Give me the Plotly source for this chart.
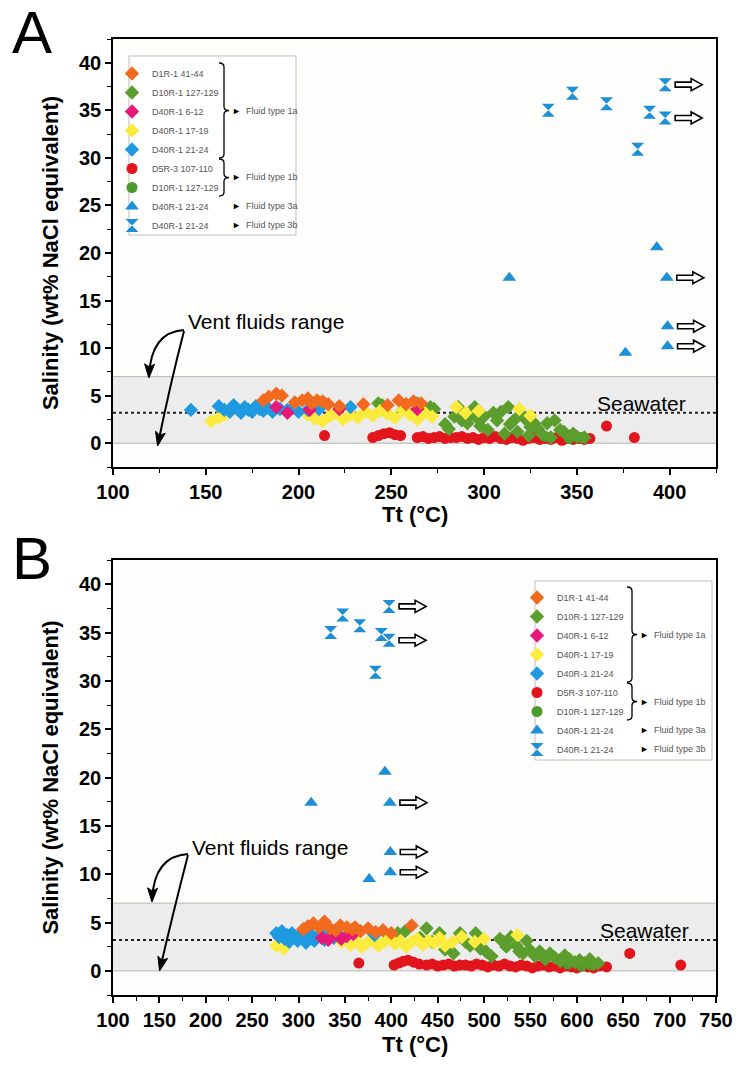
import math
import plotly.graph_objects as go

W, H = 746, 1065

# ---------------- data: panel A ----------------
a_orange_x = [181, 184, 188, 191, 198, 202, 205, 207, 210, 213, 216, 222, 235, 248, 254, 258, 262, 266]
a_orange_y = [4.5, 4.9, 5.2, 5.0, 4.3, 4.5, 4.7, 4.2, 4.5, 4.4, 4.1, 3.9, 4.1, 4.0, 4.5, 4.1, 4.4, 4.2]
a_green_x = [243, 245, 264, 271, 273, 279, 281, 284, 286, 288, 291, 293, 295, 297, 298, 300, 302, 305, 307,
             309, 311, 313, 314, 316, 318, 320, 322, 324, 325, 327, 329, 331, 334, 336, 338, 341, 343, 345,
             348, 350, 354]
a_green_y = [4.2, 4.0, 4.2, 3.8, 3.6, 2.0, 1.5, 2.8, 3.8, 2.4, 2.1, 3.0, 3.8, 2.5, 1.8, 2.8, 1.4, 3.2, 2.4,
             3.3, 1.0, 3.8, 2.0, 2.4, 1.2, 3.1, 2.6, 0.8, 1.7, 2.1, 1.5, 1.0, 2.1, 0.6, 2.4, 1.4, 1.2, 0.8,
             1.0, 0.7, 0.6]
a_magenta_x = [188, 194, 206, 222, 264]
a_magenta_y = [3.8, 3.2, 3.5, 3.6, 3.6]
a_yellow_x = [153, 157, 160, 205, 209, 213, 217, 220, 224, 228, 232, 236, 240, 244, 248, 252, 256, 260, 264,
              268, 272, 285, 290, 297, 319, 325]
a_yellow_y = [2.3, 2.7, 3.0, 3.0, 2.6, 2.3, 2.9, 3.2, 2.5, 3.0, 2.7, 3.3, 2.9, 3.4, 3.1, 2.7, 3.5, 3.0, 2.5,
              3.2, 2.8, 3.8, 3.2, 3.4, 3.6, 2.9]
a_blue_x = [142, 157, 160, 163, 165, 167, 169, 171, 173, 175, 177, 179, 181, 183, 186, 190, 194, 197, 200,
            205, 211, 228]
a_blue_y = [3.5, 3.9, 3.5, 3.3, 4.0, 3.6, 3.2, 3.8, 3.5, 3.3, 3.9, 3.6, 3.4, 3.8, 3.3, 3.6, 3.5, 3.7, 3.3,
            3.5, 3.6, 3.8]
a_red_x = [214, 240, 243, 246, 249, 252, 255, 264, 267, 270, 273, 276, 279, 282, 285, 288, 291, 294, 297,
           300, 303, 306, 309, 312, 315, 318, 321, 324, 327, 330, 333, 336, 339, 342, 345, 348, 351, 354,
           357, 366, 381]
a_red_y = [0.8, 0.6, 0.8, 1.0, 1.1, 0.9, 0.8, 0.6, 0.7, 0.5, 0.6, 0.7, 0.5, 0.6, 0.6, 0.7, 0.5, 0.6, 0.4,
           0.6, 0.5, 0.7, 0.5, 0.4, 0.6, 0.5, 0.3, 0.5, 0.6, 0.4, 0.5, 0.4, 0.6, 0.3, 0.5, 0.4, 0.5, 0.4,
           0.5, 1.8, 0.6]
a_green1b_x = [333, 346, 352]
a_green1b_y = [0.7, 0.5, 0.6]

# ---------------- data: panel B ----------------
b_orange_x = [305, 310, 316, 322, 328, 334, 340, 345, 352, 358, 361, 367, 375, 383, 391, 400, 422]
b_orange_y = [4.3, 4.6, 4.9, 4.5, 5.1, 4.4, 4.2, 4.7, 4.5, 4.3, 4.5, 4.1, 4.4, 4.0, 4.2, 3.9, 4.7]
b_green_x = [407, 415, 431, 438, 444, 452, 458, 467, 474, 480, 485, 491, 496, 502, 508, 517, 521, 524,
             529, 535, 538, 542, 546, 549, 555, 560, 566, 571, 576, 582, 587, 592, 598, 603, 608, 614, 618,
             623]
b_green_y = [3.9, 4.1, 3.4, 4.4, 3.0, 3.9, 2.2, 1.8, 3.9, 3.0, 2.6, 3.9, 2.3, 2.0, 1.5, 3.3, 3.0, 2.5,
             3.5, 2.6, 2.0, 1.8, 3.1, 2.2, 1.5, 2.0, 1.2, 1.8, 1.4, 1.0, 1.6, 1.2, 0.9, 1.1, 0.8, 1.2, 0.7,
             0.8]
b_magenta_x = [325, 332, 337, 346, 352, 359]
b_magenta_y = [3.4, 3.2, 3.6, 3.3, 3.6, 3.8]
b_yellow_x = [276, 284, 346, 356, 362, 368, 374, 380, 386, 392, 398, 404, 410, 416, 422, 428, 434, 440,
              446, 452, 458, 466, 476, 490, 500, 536]
b_yellow_y = [2.6, 2.3, 3.0, 2.7, 3.2, 2.5, 2.9, 3.3, 2.6, 3.0, 3.4, 2.8, 3.1, 2.5, 3.0, 3.3, 2.7, 3.1,
              2.9, 3.4, 2.6, 3.0, 3.5, 3.0, 3.3, 3.7]
b_blue_x = [276, 279, 282, 285, 288, 290, 293, 296, 299, 302, 305, 308, 311, 314, 317, 320, 324, 328,
            333, 338, 343, 382]
b_blue_y = [3.9, 3.5, 4.1, 3.3, 3.7, 3.0, 3.9, 3.4, 3.1, 3.8, 3.5, 2.9, 3.3, 3.7, 3.1, 3.5, 3.9, 3.2,
            3.6, 3.4, 3.8, 3.7]
b_red_x = [365, 403, 408, 413, 418, 424, 430, 438, 444, 450, 456, 462, 468, 474, 480, 486, 492, 498,
           504, 510, 516, 522, 528, 534, 540, 546, 552, 558, 564, 570, 576, 582, 588, 594, 600, 606, 612,
           618, 624, 632, 657, 712]
b_red_y = [0.8, 0.6, 0.8, 1.0, 1.1, 0.9, 0.7, 0.6, 0.7, 0.5, 0.6, 0.7, 0.5, 0.6, 0.6, 0.5, 0.7, 0.6,
           0.4, 0.6, 0.5, 0.7, 0.5, 0.4, 0.6, 0.5, 0.3, 0.5, 0.6, 0.4, 0.5, 0.3, 0.5, 0.4, 0.3, 0.5, 0.4,
           0.3, 0.5, 0.4, 1.8, 0.6]
b_green1b_x = [590, 605, 615]
b_green1b_y = [0.7, 0.5, 0.6]

# ---------------- hypersaline inclusions (same in both panels) ----------------
tri_x = [313.6, 393.1, 398.5, 398.9, 398.9, 376.2]
tri_y = [17.4, 20.6, 17.4, 12.3, 10.2, 9.5]
tri_min_only = [False, False, True, True, True, False]   # Tt is a minimum (arrow)
hg_x = [334.6, 347.6, 366.0, 382.8, 389.2, 397.6, 397.6]
hg_y = [35.0, 36.8, 35.7, 30.9, 34.8, 37.7, 34.2]
hg_min_only = [False, False, False, False, False, True, True]

seawater_salinity = 3.2
vent_range = [0, 7]

x_ticks_a = [100, 150, 200, 250, 300, 350, 400]
x_ticks_b = list(range(100, 751, 50))
y_ticks = [0, 5, 10, 15, 20, 25, 30, 35, 40]

names = ["D1R-1 41-44", "D10R-1 127-129", "D40R-1 6-12", "D40R-1 17-19", "D40R-1 21-24",
         "D5R-3 107-110", "D10R-1 127-129", "D40R-1 21-24", "D40R-1 21-24"]
colors = ["#f26a1d", "#5c9e2e", "#e6197b", "#fbeb3c", "#1f9ae0", "#e2141c", "#4a9a2c", "#1c8fd6", "#1c8fd6"]
symbols = ["diamond", "diamond", "diamond", "diamond", "diamond", "circle", "circle", "triangle-up", "hourglass"]
sizes = [11, 11, 11, 11, 11, 11, 11, 12, 13]

panel_series = {
    "A": [(a_orange_x, a_orange_y), (a_green_x, a_green_y), (a_magenta_x, a_magenta_y),
          (a_yellow_x, a_yellow_y), (a_blue_x, a_blue_y), (a_red_x, a_red_y), (a_green1b_x, a_green1b_y),
          (tri_x, tri_y), (hg_x, hg_y)],
    "B": [(b_orange_x, b_orange_y), (b_green_x, b_green_y), (b_magenta_x, b_magenta_y),
          (b_yellow_x, b_yellow_y), (b_blue_x, b_blue_y), (b_red_x, b_red_y), (b_green1b_x, b_green1b_y),
          (tri_x, tri_y), (hg_x, hg_y)],
}

# ---------------- layout geometry (pixels) ----------------
PX_L, PX_R = 113, 716
A_TOP, A_BOT = 39, 467
B_TOP, B_BOT = 560, 995
ROW_H = 19          # plotly legend row height
ROW_OFF = 14        # first legend row centre below legend top


def px(x):
    return x / W


def py(y):
    return 1 - y / H


fig = go.Figure()
order = [5, 6, 1, 3, 4, 2, 0, 7, 8]
for panel, xa, ya, leg in [("A", "x", "y", "legend"), ("B", "x2", "y2", "legend2")]:
    for i in order:
        sx, sy = panel_series[panel][i]
        fig.add_trace(go.Scatter(
            x=sx, y=sy, mode="markers", name=names[i], legend=leg, xaxis=xa, yaxis=ya,
            legendrank=i + 1,
            marker=dict(symbol=symbols[i], color=colors[i], size=sizes[i], line=dict(width=0)),
            showlegend=True))

tickfont = dict(family="Liberation Sans", size=20, color="black", weight="bold")
titlefont = dict(family="Liberation Sans", size=22, color="black", weight="bold")


def xaxis(rng, dom, anchor, tv):
    return dict(domain=dom, range=rng, anchor=anchor, tickmode="array", tickvals=tv,
                ticks="outside", ticklen=6, tickwidth=1.5, tickcolor="black",
                minor=dict(ticks="outside", ticklen=4, tickwidth=1.2, dtick=25, tick0=100, tickcolor="black"),
                showline=True, linecolor="black", linewidth=1.5, mirror=True,
                showgrid=False, zeroline=False, tickfont=tickfont, automargin=False)


def yaxis(dom, anchor):
    return dict(domain=dom, range=[-2.5, 42.5], anchor=anchor, tickmode="array", tickvals=y_ticks,
                ticks="outside", ticklen=6, tickwidth=1.5, tickcolor="black",
                minor=dict(ticks="outside", ticklen=4, tickwidth=1.2, dtick=2.5, tick0=0, tickcolor="black"),
                showline=True, linecolor="black", linewidth=1.5, mirror=True,
                showgrid=False, zeroline=False, tickfont=tickfont,
                title=dict(text="Salinity (wt% NaCl equivalent)", font=titlefont, standoff=14),
                automargin=False)


xdom = [px(PX_L), px(PX_R)]
fig.update_layout(
    width=W, height=H, margin=dict(l=0, r=0, t=0, b=0),
    paper_bgcolor="white", plot_bgcolor="#fdfdfb",
    xaxis=xaxis([100, 425], xdom, "y", x_ticks_a),
    yaxis=yaxis([py(A_BOT), py(A_TOP)], "x"),
    xaxis2=xaxis([100, 750], xdom, "y2", x_ticks_b),
    yaxis2=yaxis([py(B_BOT), py(B_TOP)], "x2"),
)

# legend placement (pixels): (legend x, legend top, frame box, brace x)
LEG = {"A": (112, 59, (129, 56, 296, 235), 219),
       "B": (517, 583, (535, 581, 712, 760), 627)}

legend_style = dict(font=dict(family="Liberation Sans", size=9, color="#555"),
                    bgcolor="rgba(0,0,0,0)", borderwidth=0, xanchor="left", yanchor="top",
                    traceorder="normal", itemclick=False, itemdoubleclick=False)
fig.update_layout(legend=dict(x=px(LEG["A"][0]), y=py(LEG["A"][1]), **legend_style),
                  legend2=dict(x=px(LEG["B"][0]), y=py(LEG["B"][1]), **legend_style))

shapes = []
annotations = []


def P(x, y):
    return f"{px(x):.5f},{py(y):.5f}"


for panel, xr, yr in [("A", "x", "y"), ("B", "x2", "y2")]:
    shapes.append(dict(type="rect", xref=f"{xr} domain", yref=yr, x0=0, x1=1, y0=vent_range[0],
                       y1=vent_range[1], fillcolor="#ececec", line=dict(width=0), layer="below"))
    for yy in vent_range:
        shapes.append(dict(type="line", xref=f"{xr} domain", yref=yr, x0=0, x1=1, y0=yy, y1=yy,
                           line=dict(color="#b5b5b5", width=1), layer="below"))
    shapes.append(dict(type="line", xref=f"{xr} domain", yref=yr, x0=0, x1=1, y0=seawater_salinity,
                       y1=seawater_salinity, line=dict(color="#222", width=2, dash="dot"), layer="below"))
    bx0, by0, bx1, by1 = LEG[panel][2]
    shapes.append(dict(type="rect", xref="paper", yref="paper", x0=px(bx0), x1=px(bx1),
                       y0=py(by1), y1=py(by0), fillcolor="white",
                       line=dict(color="#bdbdbd", width=1), layer="below"))
    for xs, ys, flags in [(tri_x, tri_y, tri_min_only), (hg_x, hg_y, hg_min_only)]:
        for xv, yv, f in zip(xs, ys, flags):
            if not f:
                continue
            path = "M 10,-2.5 L 26,-2.5 L 26,-6 L 37,0 L 26,6 L 26,2.5 L 10,2.5 Z"
            shapes.append(dict(type="path", xref=xr, yref=yr, xsizemode="pixel", ysizemode="pixel",
                               xanchor=xv, yanchor=yv, path=path, fillcolor="white",
                               line=dict(color="black", width=1.6)))


def brace(x, y0, y1, w=5):
    ym = (y0 + y1) / 2
    r = 4
    return (f"M {P(x, y0)} Q {P(x + w, y0)} {P(x + w, y0 + r)} L {P(x + w, ym - r)} "
            f"Q {P(x + w, ym)} {P(x + 2 * w, ym)} Q {P(x + w, ym)} {P(x + w, ym + r)} "
            f"L {P(x + w, y1 - r)} Q {P(x + w, y1)} {P(x, y1)}")


for panel in ["A", "B"]:
    _, ltop, _, lx = LEG[panel]
    rows = [ltop + ROW_OFF + i * ROW_H for i in range(9)]
    b1 = (rows[0] - 10, rows[4] + 9)
    b2 = (rows[5] - 9, rows[6] + 9)
    for (y0, y1) in [b1, b2]:
        shapes.append(dict(type="path", path=brace(lx, y0, y1), xref="paper", yref="paper",
                           line=dict(color="black", width=1.3)))
    for label, yy in [("Fluid type 1a", (b1[0] + b1[1]) / 2), ("Fluid type 1b", (b2[0] + b2[1]) / 2),
                      ("Fluid type 3a", rows[7]), ("Fluid type 3b", rows[8])]:
        annotations.append(dict(x=px(lx + 11), y=py(yy), xref="paper", yref="paper", xanchor="left",
                                yanchor="middle", showarrow=False,
                                text="<span style='color:black'>►</span>  " + label,
                                font=dict(family="Liberation Sans", size=9, color="#555")))


def curve_arrow(x0, y0, cx, cy, x1, y1):
    shapes.append(dict(type="path", xref="paper", yref="paper",
                       path=f"M {P(x0, y0)} Q {P(cx, cy)} {P(x1, y1)}",
                       line=dict(color="black", width=2)))
    dx, dy = x1 - cx, y1 - cy
    L = math.hypot(dx, dy)
    ux, uy = dx / L, dy / L
    nx, ny = -uy, ux
    hl, hw = 12, 5
    bx, by = x1 - ux * hl, y1 - uy * hl
    shapes.append(dict(type="path", xref="paper", yref="paper",
                       path=f"M {P(x1 + ux * 2, y1 + uy * 2)} L {P(bx + nx * hw, by + ny * hw)} "
                            f"L {P(bx + ux * 3, by + uy * 3)} L {P(bx - nx * hw, by - ny * hw)} Z",
                       fillcolor="black", line=dict(color="black", width=1)))


for (tx, ty), (sx, sy), t1, t2 in [((186, 322), (184, 330), (149, 376), (158, 444)),
                                   ((190, 847), (188, 854), (152, 900), (160, 969))]:
    annotations.append(dict(x=px(tx), y=py(ty), xref="paper", yref="paper", xanchor="left",
                            yanchor="middle", showarrow=False, text="Vent fluids range",
                            font=dict(family="Liberation Sans", size=21, color="black")))
    curve_arrow(sx, sy, t1[0] + 2, sy + 2, t1[0], t1[1])
    curve_arrow(sx, sy + 1, sx - 14, sy + 55, t2[0], t2[1])

for sx, sy in [(595, 403), (598, 930)]:
    annotations.append(dict(x=px(sx), y=py(sy), xref="paper", yref="paper", xanchor="left",
                            yanchor="middle", showarrow=False, text="Seawater",
                            font=dict(family="Liberation Sans", size=21, color="black")))

# x-axis titles
for yy in [A_BOT + 47, B_BOT + 49]:
    annotations.append(dict(x=px((PX_L + PX_R) / 2), y=py(yy), xref="paper", yref="paper",
                            xanchor="center", yanchor="middle", showarrow=False, text="Tt (°C)",
                            font=titlefont))

for lab, yy in [("A", 33), ("B", 558)]:
    annotations.append(dict(x=px(32), y=py(yy), xref="paper", yref="paper", xanchor="center",
                            yanchor="middle", showarrow=False, text=lab,
                            font=dict(family="Liberation Sans", size=60, color="black")))

fig.update_layout(shapes=shapes, annotations=annotations)
fig.write_html("out.html", config={"displayModeBar": False},
               post_script="document.body.style.margin='0';document.body.style.overflow='hidden';")
